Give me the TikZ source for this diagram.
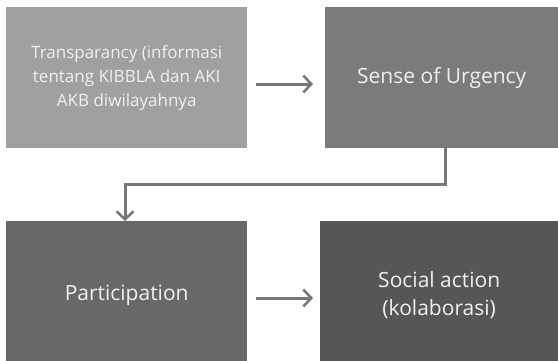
\documentclass[tikz,border=0pt]{standalone}
\usepackage{fontspec}
\setmainfont{Open Sans}
\usetikzlibrary{arrows.meta}
\definecolor{boxA}{HTML}{A0A0A0}
\definecolor{boxB}{HTML}{7B7B7B}
\definecolor{boxC}{HTML}{686868}
\definecolor{boxD}{HTML}{565656}
\definecolor{linkgray}{HTML}{777777}
\definecolor{txt}{HTML}{F0F0F0}
\tikzset{
  stage/.style={draw=none, minimum width=241pt, minimum height=141pt, inner sep=0pt,
    text=txt, font=\fontsize{21}{28}\selectfont, align=center, anchor=north west},
  link/.style={draw=linkgray, line width=3pt, -{Straight Barb[length=8pt,width=17pt,line width=2.5pt]}}
}
\begin{document}
\begin{tikzpicture}[x=1pt,y=-1pt]
\useasboundingbox (0,0) rectangle (558,360);
\fill[white] (0,0) rectangle (558,360);
\node[stage, fill=boxA, minimum width=241pt, font=\fontsize{17}{24}\selectfont] (trans) at (6,7)
  {Transparancy (informasi\\tentang KIBBLA dan AKI\\AKB diwilayahnya};
\node[stage, fill=boxB, minimum width=233pt] (urg) at (325,7) {Sense of Urgency};
\node[stage, fill=boxC, minimum width=241pt, minimum height=148pt] (part) at (6,221) {Participation};
\node[stage, fill=boxD, minimum width=238pt, minimum height=148pt] (soc) at (320,221) {Social action\\(kolaborasi)};
\coordinate (a1) at (256,84);
\coordinate (a2) at (313,84);
\draw[link] (a1) -- (a2);
\coordinate (b1) at (256,298);
\coordinate (b2) at (313,298);
\draw[link] (b1) -- (b2);
\coordinate (bend1) at (445,184);
\coordinate (bend2) at (125,184);
\draw[link] (urg.south -| bend1) -- (bend1) -- (bend2) -- (part.north -| bend2);
\end{tikzpicture}
\end{document}
